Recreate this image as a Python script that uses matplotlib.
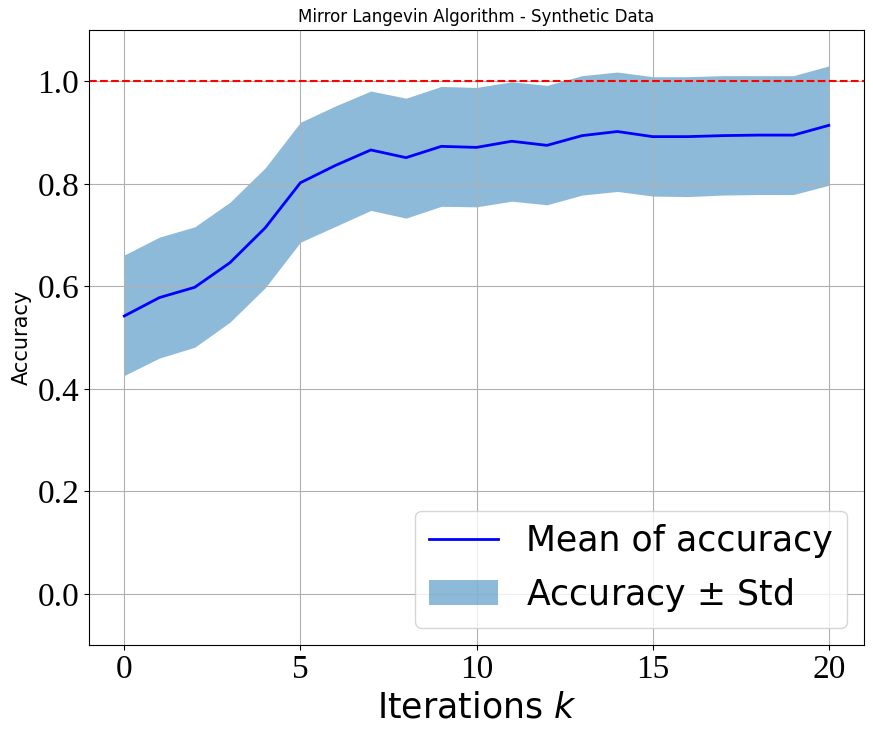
import numpy as np
import matplotlib
matplotlib.use("Agg")
import matplotlib.pyplot as plt

iterations = list(range(21))
mean_acc = [0.542, 0.578, 0.598, 0.646, 0.714, 0.802, 0.836, 0.866, 0.851, 0.873, 0.871,
            0.883, 0.875, 0.894, 0.902, 0.892, 0.892, 0.894, 0.895, 0.895, 0.914]
upper_acc = [0.661, 0.696, 0.716, 0.764, 0.831, 0.920, 0.952, 0.981, 0.967, 0.990, 0.988,
             0.999, 0.992, 1.011, 1.018, 1.009, 1.009, 1.011, 1.011, 1.011, 1.030]
lower_acc = [0.426, 0.460, 0.481, 0.530, 0.597, 0.686, 0.717, 0.748, 0.733, 0.756, 0.755,
             0.766, 0.759, 0.778, 0.785, 0.776, 0.775, 0.778, 0.779, 0.779, 0.797]

fig = plt.figure(figsize=(8.73, 7.36), dpi=100)
ax = fig.add_subplot(111)
fig.subplots_adjust(left=0.102, right=0.9897, top=0.9592, bottom=0.1236)

ax.plot(iterations, mean_acc, color="blue", linewidth=2, label="Mean of accuracy")
ax.fill_between(iterations, lower_acc, upper_acc, color="tab:blue", alpha=0.5,
                linewidth=0, label="Accuracy $\\pm$ Std")
ax.axhline(1.0, color="red", linestyle="--", linewidth=1.5)

ax.set_xlim(-1, 21)
ax.set_ylim(-0.1, 1.1)
ax.set_xticks([0, 5, 10, 15, 20])
ax.set_yticks([0.0, 0.2, 0.4, 0.6, 0.8, 1.0])
ax.tick_params(labelsize=24, labelfontfamily="Liberation Serif")

ax.grid(True)
ax.set_title("Mirror Langevin Algorithm - Synthetic Data", fontsize=12)
ax.set_xlabel("Iterations $k$", fontsize=25)
ax.set_ylabel("Accuracy", fontsize=15)
ax.legend(loc="lower right", fontsize=25)

fig.savefig("out.png", dpi=100)
